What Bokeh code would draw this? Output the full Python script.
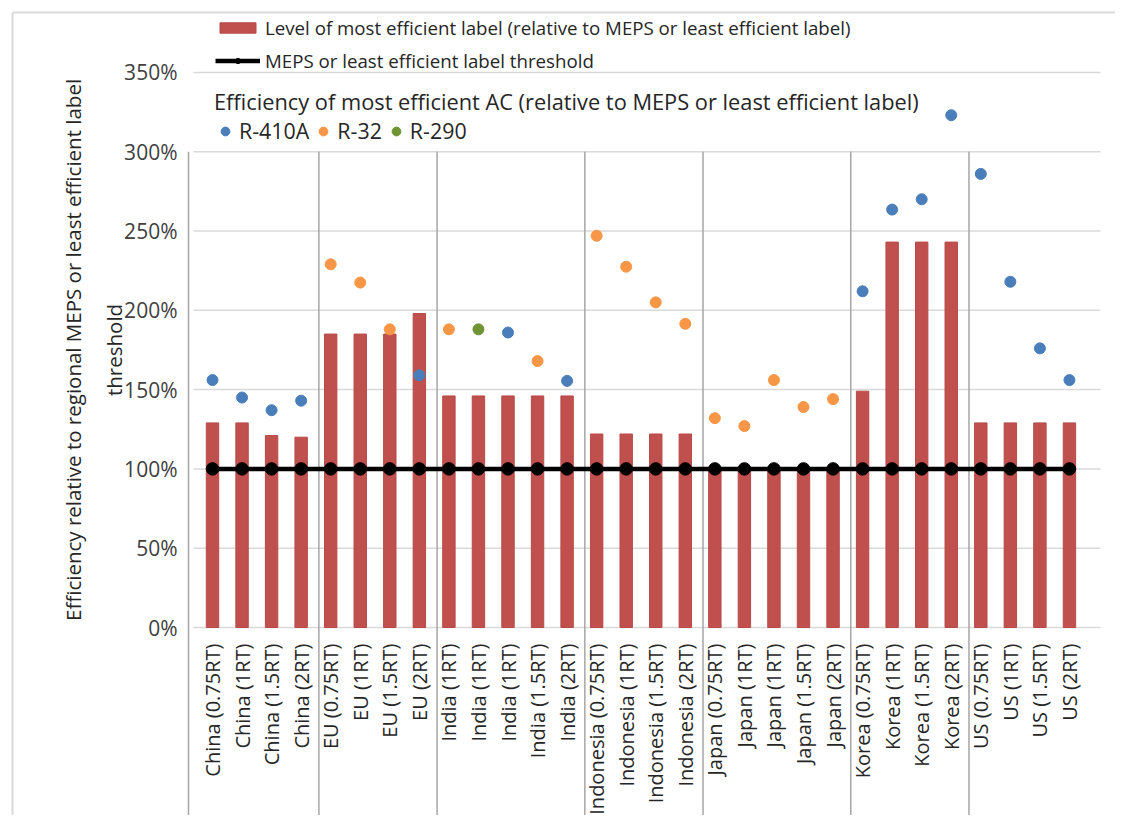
import math
from bokeh.plotting import figure
from bokeh.models import ColumnDataSource, Legend, LegendItem, Range1d
from bokeh.embed import file_html
from bokeh.resources import INLINE
from bokeh.core.properties import value

# ---------------- data ----------------
categories = [
    "China (0.75RT)", "China (1RT)", "China (1.5RT)", "China (2RT)",
    "EU (0.75RT)", "EU (1RT)", "EU (1.5RT)", "EU (2RT)",
    "India (1RT)", "India (1RT)", "India (1RT)", "India (1.5RT)", "India (2RT)",
    "Indonesia (0.75RT)", "Indonesia (1RT)", "Indonesia (1.5RT)", "Indonesia (2RT)",
    "Japan (0.75RT)", "Japan (1RT)", "Japan (1RT)", "Japan (1.5RT)", "Japan (2RT)",
    "Korea (0.75RT)", "Korea (1RT)", "Korea (1.5RT)", "Korea (2RT)",
    "US (0.75RT)", "US (1RT)", "US (1.5RT)", "US (2RT)",
]
label_level = [
    1.29, 1.29, 1.21, 1.20,
    1.85, 1.85, 1.85, 1.98,
    1.46, 1.46, 1.46, 1.46, 1.46,
    1.22, 1.22, 1.22, 1.22,
    1.00, 1.00, 1.00, 1.00, 1.00,
    1.49, 2.43, 2.43, 2.43,
    1.29, 1.29, 1.29, 1.29,
]
threshold = [1.0] * len(categories)
best_ac = [
    1.56, 1.45, 1.37, 1.43,
    2.29, 2.175, 1.88, 1.59,
    1.88, 1.88, 1.86, 1.68, 1.555,
    2.47, 2.275, 2.05, 1.915,
    1.32, 1.27, 1.56, 1.39, 1.44,
    2.12, 2.635, 2.70, 3.23,
    2.86, 2.18, 1.76, 1.56,
]
refrigerant = [
    "R-410A", "R-410A", "R-410A", "R-410A",
    "R-32", "R-32", "R-32", "R-410A",
    "R-32", "R-290", "R-410A", "R-32", "R-410A",
    "R-32", "R-32", "R-32", "R-32",
    "R-32", "R-32", "R-32", "R-32", "R-32",
    "R-410A", "R-410A", "R-410A", "R-410A",
    "R-410A", "R-410A", "R-410A", "R-410A",
]
ref_names = ["R-410A", "R-32", "R-290"]
ref_colors = {"R-410A": "#4A7EBB", "R-32": "#F79646", "R-290": "#6E9433"}
y_ticks = [0, 0.5, 1.0, 1.5, 2.0, 2.5, 3.0, 3.5]
y_tick_labels = ["0%", "50%", "100%", "150%", "200%", "250%", "300%", "350%"]
y_title = "Efficiency relative to regional MEPS or least efficient label\nthreshold"

FONT = "Open Sans"
TXT = "#262626"
n = len(categories)
xs = list(range(n))
regions = [c.split(" (")[0] for c in categories]

# ---------------- layout helpers (pixel -> data) ----------------
W, H = 1115, 815
X0_PX, DX_PX = 212.0, 29.55      # pixel of first category, pixels per category
Y0_PX, DY_PX = 627.0, 158.6      # pixel of 0%, pixels per 100%
def dx(px): return (px - X0_PX) / DX_PX
def dy(py): return (Y0_PX - py) / DY_PX

p = figure(width=W, height=H,
           x_range=Range1d(dx(0), dx(W)), y_range=Range1d(dy(H), dy(0)),
           x_axis_location=None, y_axis_location=None,
           toolbar_location=None, output_backend="svg",
           min_border=0, min_border_left=0, min_border_right=0,
           min_border_top=0, min_border_bottom=0)
p.outline_line_color = None
p.grid.visible = False
p.background_fill_color = "white"
p.border_fill_color = "white"

# chart border (top and left)
p.segment(x0=[dx(12), dx(12)], x1=[dx(W + 10), dx(12)],
          y0=[dy(12), dy(12)], y1=[dy(12), dy(H + 10)],
          line_color="#D9D9D9", line_width=2)

# horizontal grid lines + y tick labels
p.segment(x0=dx(193), x1=dx(1100), y0=y_ticks, y1=y_ticks,
          line_color="#D9D9D9", line_width=1.5)
p.text(x=dx(177), y=y_ticks, text=y_tick_labels, text_align="right",
       text_baseline="middle", text_font=value(FONT), text_font_size="21px",
       text_color="#404040")

# group separators
sep_x = [dx(188)] + [i - 0.4 for i in range(1, n) if regions[i] != regions[i - 1]]
p.segment(x0=sep_x, x1=sep_x, y0=3.0, y1=dy(H + 10),
          line_color="#A6A6A6", line_width=1.5)

src = ColumnDataSource(dict(x=xs, level=label_level, thr=threshold, cat=categories))

bars = p.vbar(x="x", top="level", bottom=0, width=0.42, source=src,
              fill_color="#C0504D", line_color="#B84A47", line_width=1)
thr_line = p.line(x="x", y="thr", source=src, line_color="black", line_width=4.5)
thr_dots = p.scatter(x="x", y="thr", source=src, size=12.5, color="black")

ref_renderers = {}
for name in ref_names:
    px = [x for x, r in zip(xs, refrigerant) if r == name]
    py = [v for v, r in zip(best_ac, refrigerant) if r == name]
    ref_renderers[name] = p.scatter(x=px, y=py, size=11, color=ref_colors[name])

# category labels (rotated)
p.text(x="x", y=dy(643), text="cat", source=src, angle=math.pi / 2,
       text_align="right", text_baseline="middle",
       text_font=value(FONT), text_font_size="20px", text_color=TXT)

# y axis title
p.text(x=dx(93), y=1.75, text=[y_title], angle=math.pi / 2,
       text_align="center", text_baseline="middle", text_line_height=1.43,
       text_font=value(FONT), text_font_size="20.5px", text_color=TXT)

# legends
leg1 = Legend(items=[
    LegendItem(label="Level of most efficient label (relative to MEPS or least efficient label)",
               renderers=[bars]),
    LegendItem(label="MEPS or least efficient label threshold",
               renderers=[thr_line, thr_dots]),
], location=(215, H - 73), orientation="vertical", glyph_width=45, glyph_height=13,
    label_height=26, spacing=7, padding=0, margin=0, label_standoff=5,
    border_line_color=None, background_fill_alpha=0,
    label_text_font=FONT, label_text_font_size="18.7px", label_text_color=TXT)
p.add_layout(leg1)

leg2 = Legend(items=[LegendItem(label=nm, renderers=[ref_renderers[nm]]) for nm in ref_names],
              title="Efficiency of most efficient AC (relative to MEPS or least efficient label)",
              title_text_font=FONT, title_text_font_size="21.8px", title_text_color=TXT,
              title_text_font_style="normal", title_standoff=0,
              location=(214, H - 145), orientation="horizontal", glyph_width=22, glyph_height=22,
              label_height=29, spacing=3, padding=0, margin=0, label_standoff=3,
              border_line_color=None, background_fill_alpha=0,
              label_text_font=FONT, label_text_font_size="21.4px", label_text_color=TXT)
p.add_layout(leg2)

open("out.html", "w").write(file_html(p, INLINE))
